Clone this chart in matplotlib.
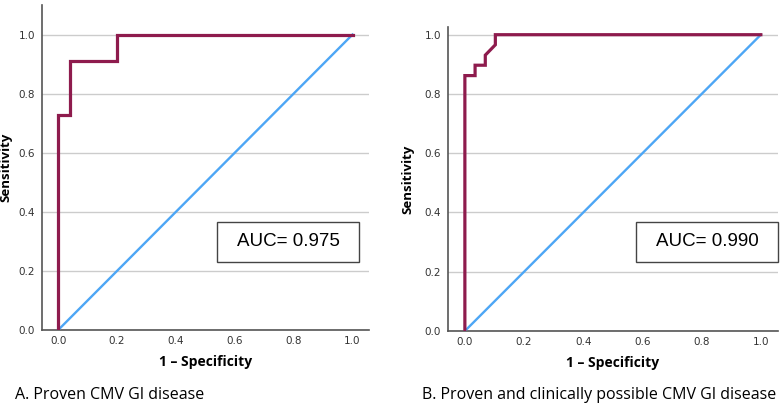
import matplotlib.pyplot as plt
from matplotlib.patches import Rectangle

# ROC curves
fpr_a = [0.0, 0.0, 0.04, 0.04, 0.2, 0.2, 1.0]
tpr_a = [0.0, 0.727, 0.727, 0.909, 0.909, 1.0, 1.0]

fpr_b = [0.0, 0.0, 0.0345, 0.0345, 0.069, 0.069, 0.103, 0.103, 1.0]
tpr_b = [0.0, 0.862, 0.862, 0.897, 0.897, 0.931, 0.966, 1.0, 1.0]

ref_line = [0.0, 1.0]
ticks = [0.0, 0.2, 0.4, 0.6, 0.8, 1.0]
auc_labels = ['AUC= 0.975', 'AUC= 0.990']
captions = ['A. Proven CMV GI disease', 'B. Proven and clinically possible CMV GI disease']

roc_color = '#8e1b4d'
diag_color = '#4da6f5'

fig = plt.figure(figsize=(7.8, 4.05), dpi=100)
W, H = 780, 405

def px_axes(x0, y0, x1, y1):
    return fig.add_axes([x0 / W, 1 - y1 / H, (x1 - x0) / W, (y1 - y0) / H])

ax_a = px_axes(42, 5, 369, 330)
ax_b = px_axes(448, 27, 778, 331)

panels = [
    (ax_a, fpr_a, tpr_a, (-0.055, 1.056), (0, 1.10), 12),
    (ax_b, fpr_b, tpr_b, (-0.057, 1.058), (0, 1.026), 414),
]

for i, (ax, fx, ty, xl, yl, ylab_x) in enumerate(panels):
    ax.plot(ref_line, ref_line, color=diag_color, lw=1.7, zorder=3)
    ax.plot(fx, ty, color=roc_color, lw=2.3, zorder=4, solid_joinstyle='miter')
    ax.set_xlim(*xl)
    ax.set_ylim(*yl)
    ax.set_xticks(ticks)
    ax.set_yticks(ticks)
    ax.set_xticklabels([f'{t:.1f}' for t in ticks])
    ax.set_yticklabels([f'{t:.1f}' for t in ticks])
    ax.tick_params(axis='x', length=0, labelsize=7.5, colors='#333333', pad=4)
    ax.tick_params(axis='y', length=0, labelsize=7.5, colors='#333333', pad=5)
    ax.grid(axis='y', color='#cccccc', lw=1.0)
    ax.set_axisbelow(True)
    for s in ['top', 'right']:
        ax.spines[s].set_visible(False)
    for s in ['left', 'bottom']:
        ax.spines[s].set_color('#555555')
        ax.spines[s].set_linewidth(1.2)
    ax.set_xlabel('1 – Specificity', fontsize=10, fontweight='bold', family='Open Sans', labelpad=7)
    ax.set_ylabel('Sensitivity', fontsize=9.5, fontweight='bold', family='Open Sans')
    pos = ax.get_position()
    ax.yaxis.set_label_coords((ylab_x - pos.x0 * W) / (pos.width * W), 0.5)

# AUC boxes
for (x0, x1), label in zip([(217, 359), (636, 778)], auc_labels):
    y0, y1 = 222, 262
    fig.add_artist(Rectangle((x0 / W, 1 - y1 / H), (x1 - x0) / W, (y1 - y0) / H,
                             transform=fig.transFigure, fill=False, edgecolor='#444444', lw=1.0))
    fig.text((x0 + x1) / 2 / W, 1 - (y0 + y1) / 2 / H, label, ha='center', va='center',
             fontsize=13.5, family='Liberation Sans')

fig.text(15 / W, 1 - 395 / H, captions[0], ha='left', va='center', fontsize=11.5, family='Open Sans')
fig.text(422 / W, 1 - 395 / H, captions[1], ha='left', va='center', fontsize=11.5, family='Open Sans')

fig.savefig('out.png', dpi=100)
